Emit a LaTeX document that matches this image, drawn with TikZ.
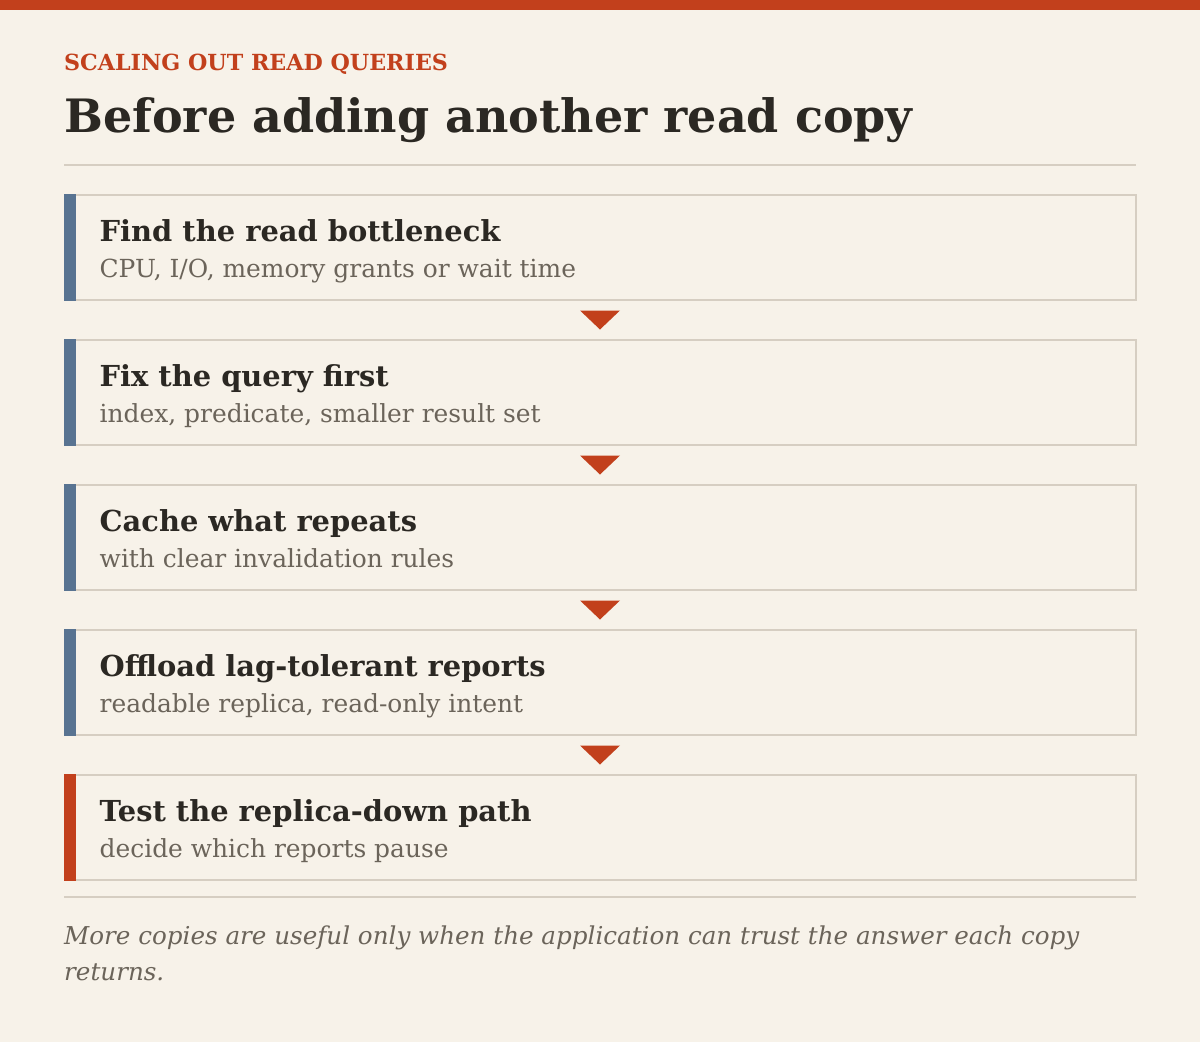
\documentclass[tikz,border=0pt]{standalone}
\usepackage{fontspec}
\setmainfont{DejaVu Serif}
\usepackage[dvipsnames]{xcolor}
\usepackage{tikz}
\usetikzlibrary{positioning}
\definecolor{Paper}{HTML}{F7F2E9}
\definecolor{Rust}{HTML}{C2401C}
\definecolor{Ink}{HTML}{2B2823}
\definecolor{Stone}{HTML}{6B645A}
\definecolor{Frame}{HTML}{D6CEC2}
\definecolor{Slate}{HTML}{587391}

\begin{document}
\begin{tikzpicture}[x=1pt,y=-1pt,
  stepbox/.style={draw=Frame,line width=2pt,minimum width=1071pt,minimum height=105pt,inner sep=0pt},
  steptitle/.style={anchor=base west,inner sep=0pt,text=Ink,font=\fontsize{28.9}{34}\selectfont\bfseries},
  stepnote/.style={anchor=base west,inner sep=0pt,text=Stone,font=\fontsize{24.9}{30}\selectfont},
  stepmark/.style={fill=Rust}]
\useasboundingbox (0,0) rectangle (1200,1042);
\fill[color=Paper] (0,0) rectangle (1200,1042);
\fill[color=Rust] (0,0) rectangle (1200,10);
\node[anchor=base west,inner sep=0pt,text=Rust,font=\fontsize{22.2}{26}\selectfont\bfseries] (kicker) at (64,70) {SCALING OUT READ QUERIES};
\node[anchor=base west,inner sep=0pt,text=Ink,font=\fontsize{46}{54}\selectfont\bfseries] (title) at (64,132) {Before adding another read copy};
\draw[color=Frame,line width=2pt] (64,164.5) -- (1136,164.5);

\node[stepbox] (find) at (600,247) {};
\node[stepbox] (fix) at (600,392) {};
\node[stepbox] (cache) at (600,537) {};
\node[stepbox] (offload) at (600,682) {};
\node[stepbox] (test) at (600,827) {};

\fill[color=Slate] (find.north west) rectangle ([xshift=12pt]find.south west);
\fill[color=Slate] (fix.north west) rectangle ([xshift=12pt]fix.south west);
\fill[color=Slate] (cache.north west) rectangle ([xshift=12pt]cache.south west);
\fill[color=Slate] (offload.north west) rectangle ([xshift=12pt]offload.south west);
\fill[color=Rust] (test.north west) rectangle ([xshift=12pt]test.south west);

\node[steptitle] (findt) at ([xshift=36pt,yshift=-48pt]find.north west) {Find the read bottleneck};
\node[stepnote] (findn) at ([xshift=36pt,yshift=-84pt]find.north west) {CPU, I/O, memory grants or wait time};
\node[steptitle] (fixt) at ([xshift=36pt,yshift=-48pt]fix.north west) {Fix the query first};
\node[stepnote] (fixn) at ([xshift=36pt,yshift=-84pt]fix.north west) {index, predicate, smaller result set};
\node[steptitle] (cachet) at ([xshift=36pt,yshift=-48pt]cache.north west) {Cache what repeats};
\node[stepnote] (cachen) at ([xshift=36pt,yshift=-84pt]cache.north west) {with clear invalidation rules};
\node[steptitle] (offloadt) at ([xshift=36pt,yshift=-48pt]offload.north west) {Offload lag-tolerant reports};
\node[stepnote] (offloadn) at ([xshift=36pt,yshift=-84pt]offload.north west) {readable replica, read-only intent};
\node[steptitle] (testt) at ([xshift=36pt,yshift=-48pt]test.north west) {Test the replica-down path};
\node[stepnote] (testn) at ([xshift=36pt,yshift=-84pt]test.north west) {decide which reports pause};

\fill[stepmark] ([xshift=-20pt,yshift=-10pt]find.south) -- ([xshift=20pt,yshift=-10pt]find.south) -- ([yshift=-29pt]find.south) -- cycle;
\fill[stepmark] ([xshift=-20pt,yshift=-10pt]fix.south) -- ([xshift=20pt,yshift=-10pt]fix.south) -- ([yshift=-29pt]fix.south) -- cycle;
\fill[stepmark] ([xshift=-20pt,yshift=-10pt]cache.south) -- ([xshift=20pt,yshift=-10pt]cache.south) -- ([yshift=-29pt]cache.south) -- cycle;
\fill[stepmark] ([xshift=-20pt,yshift=-10pt]offload.south) -- ([xshift=20pt,yshift=-10pt]offload.south) -- ([yshift=-29pt]offload.south) -- cycle;

\draw[color=Frame,line width=2pt] (64,897) -- (1136,897);
\node[anchor=base west,inner sep=0pt,text=Stone,align=left,font=\fontsize{24.6}{36}\selectfont\itshape] (footer) at (64,980)
{More copies are useful only when the application can trust the answer each copy\\returns.};
\end{tikzpicture}
\end{document}
